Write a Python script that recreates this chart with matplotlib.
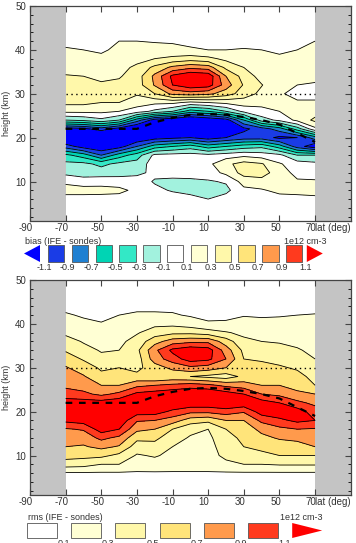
import numpy as np
import matplotlib
matplotlib.use("Agg")
import matplotlib.pyplot as plt
from matplotlib.patches import Rectangle, Polygon
from matplotlib.ticker import MultipleLocator
from matplotlib.transforms import ScaledTranslation

plt.rcParams['font.family'] = ['Liberation Sans', 'DejaVu Sans']
plt.rcParams['axes.unicode_minus'] = False

lats = [-70, -60, -50, -40, -30, -20, -10, 0, 10, 20, 30, 40, 50, 60, 70]
heights = [4, 6, 8, 10, 12, 14, 16, 18, 20, 22, 24, 26, 28, 30, 32, 34, 36, 38, 40, 42, 44, 46]

# bias (IFE - sondes), one row per latitude, values at the heights above
bias = [
    [0.0, 0.0, 0.2, 0.05, -0.15, -0.25, -0.45, -1.0, -1.4, -1.2, -0.3, 0.15, 0.35, 0.38, 0.38, 0.32, 0.2, 0.15, 0.12, 0.05, 0.0, 0.0],
    [0.0, 0.02, 0.18, 0.0, -0.2, -0.25, -0.6, -1.2, -1.45, -1.15, -0.25, 0.15, 0.35, 0.38, 0.38, 0.3, 0.2, 0.15, 0.1, 0.05, 0.0, 0.0],
    [0.0, 0.02, 0.17, 0.02, -0.2, -0.35, -0.9, -1.3, -1.5, -1.0, -0.15, 0.15, 0.3, 0.35, 0.33, 0.25, 0.2, 0.13, 0.08, 0.03, 0.0, 0.0],
    [0.0, 0.02, 0.15, 0.0, -0.18, -0.25, -0.6, -1.2, -1.5, -1.2, -0.3, 0.1, 0.3, 0.35, 0.35, 0.28, 0.22, 0.17, 0.13, 0.1, 0.03, 0.0],
    [0.0, 0.0, 0.05, 0.0, -0.15, -0.22, -0.4, -0.9, -1.3, -1.4, -0.8, 0.0, 0.2, 0.32, 0.4, 0.4, 0.35, 0.22, 0.14, 0.1, 0.03, 0.0],
    [0.0, 0.0, -0.05, -0.12, -0.05, 0.0, -0.05, -0.6, -1.2, -1.5, -1.2, -0.15, 0.15, 0.5, 0.72, 0.75, 0.55, 0.3, 0.15, 0.09, 0.03, 0.0],
    [0.0, 0.0, -0.12, -0.15, -0.02, 0.0, -0.03, -0.5, -1.15, -1.5, -1.3, -0.3, 0.15, 0.75, 1.1, 1.15, 0.75, 0.35, 0.15, 0.08, 0.03, 0.0],
    [0.0, -0.05, -0.15, -0.15, 0.0, 0.0, -0.02, -0.4, -1.1, -1.5, -1.4, -0.6, 0.05, 0.8, 1.25, 1.3, 0.85, 0.4, 0.12, 0.06, 0.02, 0.0],
    [0.0, -0.1, -0.15, -0.12, 0.0, 0.05, -0.05, -0.6, -1.2, -1.5, -1.3, -0.5, 0.1, 0.75, 1.2, 1.25, 0.8, 0.35, 0.1, 0.04, 0.01, 0.0],
    [0.0, -0.02, -0.15, -0.08, 0.15, 0.25, 0.0, -0.5, -1.1, -1.45, -1.2, -0.3, 0.15, 0.6, 0.8, 0.7, 0.45, 0.25, 0.1, 0.04, 0.01, 0.0],
    [0.0, 0.0, 0.05, 0.18, 0.38, 0.38, 0.05, -0.4, -1.0, -1.15, -0.7, -0.05, 0.2, 0.4, 0.48, 0.42, 0.3, 0.2, 0.11, 0.05, 0.01, 0.0],
    [0.0, 0.02, 0.08, 0.22, 0.4, 0.32, 0.0, -0.35, -1.0, -1.0, -0.2, 0.05, 0.15, 0.25, 0.31, 0.22, 0.15, 0.12, 0.1, 0.04, 0.0, 0.0],
    [0.0, 0.03, 0.15, 0.18, 0.18, 0.12, -0.05, -0.6, -1.15, -0.8, -0.05, 0.1, 0.15, 0.12, 0.15, 0.15, 0.13, 0.11, 0.09, 0.04, 0.0, 0.0],
    [0.0, 0.05, 0.15, 0.12, 0.05, 0.0, -0.3, -1.0, -1.1, -0.4, 0.15, 0.2, 0.12, 0.05, 0.1, 0.15, 0.14, 0.12, 0.1, 0.05, 0.0, 0.0],
    [0.0, 0.05, 0.18, 0.12, 0.02, -0.05, -0.3, -1.25, -0.8, 0.05, 0.35, 0.2, 0.12, 0.05, 0.08, 0.15, 0.15, 0.14, 0.13, 0.1, 0.04, 0.0],
]

# rms (IFE - sondes)
rms = [
    [0.0, 0.08, 0.4, 0.58, 0.7, 0.8, 0.88, 1.15, 1.25, 1.2, 1.0, 0.85, 0.78, 0.72, 0.6, 0.48, 0.4, 0.25, 0.2, 0.12, 0.05, 0.0],
    [0.0, 0.08, 0.38, 0.56, 0.68, 0.78, 0.92, 1.2, 1.3, 1.2, 0.95, 0.8, 0.72, 0.6, 0.48, 0.38, 0.28, 0.2, 0.14, 0.08, 0.03, 0.0],
    [0.0, 0.08, 0.3, 0.55, 0.75, 0.95, 1.2, 1.3, 1.3, 1.2, 0.85, 0.7, 0.55, 0.47, 0.36, 0.28, 0.22, 0.16, 0.11, 0.06, 0.02, 0.0],
    [0.0, 0.08, 0.3, 0.45, 0.68, 0.85, 1.1, 1.25, 1.3, 1.25, 0.95, 0.7, 0.6, 0.5, 0.4, 0.3, 0.25, 0.18, 0.14, 0.1, 0.04, 0.0],
    [0.0, 0.08, 0.2, 0.28, 0.4, 0.55, 0.75, 0.92, 1.2, 1.3, 1.15, 0.85, 0.55, 0.45, 0.4, 0.45, 0.38, 0.28, 0.2, 0.13, 0.05, 0.0],
    [0.0, 0.08, 0.22, 0.32, 0.42, 0.55, 0.7, 0.9, 1.2, 1.3, 1.2, 0.9, 0.5, 0.6, 0.8, 0.85, 0.62, 0.4, 0.25, 0.13, 0.05, 0.0],
    [0.0, 0.08, 0.2, 0.25, 0.3, 0.38, 0.5, 0.8, 1.05, 1.3, 1.25, 0.95, 0.55, 0.75, 1.0, 1.15, 0.8, 0.45, 0.25, 0.12, 0.05, 0.0],
    [0.0, 0.08, 0.2, 0.22, 0.25, 0.28, 0.35, 0.6, 0.95, 1.25, 1.3, 1.0, 0.5, 0.85, 1.2, 1.25, 0.85, 0.45, 0.2, 0.08, 0.03, 0.0],
    [0.0, 0.08, 0.2, 0.22, 0.24, 0.26, 0.3, 0.55, 0.95, 1.25, 1.3, 0.95, 0.45, 0.8, 1.15, 1.2, 0.85, 0.4, 0.12, 0.06, 0.02, 0.0],
    [0.0, 0.08, 0.25, 0.35, 0.38, 0.42, 0.5, 0.7, 1.0, 1.3, 1.2, 0.85, 0.4, 0.7, 0.9, 0.8, 0.6, 0.32, 0.12, 0.07, 0.02, 0.0],
    [0.0, 0.08, 0.3, 0.42, 0.5, 0.55, 0.6, 0.7, 0.92, 1.25, 1.1, 0.8, 0.55, 0.55, 0.5, 0.45, 0.35, 0.25, 0.16, 0.09, 0.03, 0.0],
    [0.0, 0.08, 0.3, 0.45, 0.55, 0.65, 0.75, 0.95, 1.2, 1.2, 0.9, 0.7, 0.62, 0.55, 0.48, 0.4, 0.3, 0.22, 0.15, 0.08, 0.03, 0.0],
    [0.0, 0.08, 0.32, 0.5, 0.6, 0.72, 0.85, 1.05, 1.25, 1.1, 0.85, 0.7, 0.6, 0.52, 0.45, 0.38, 0.28, 0.2, 0.14, 0.09, 0.03, 0.0],
    [0.0, 0.08, 0.32, 0.5, 0.62, 0.75, 0.9, 1.15, 1.2, 0.95, 0.75, 0.62, 0.55, 0.48, 0.4, 0.32, 0.25, 0.18, 0.13, 0.1, 0.03, 0.0],
    [0.0, 0.08, 0.32, 0.5, 0.7, 0.8, 0.88, 1.1, 1.0, 0.85, 0.7, 0.5, 0.45, 0.4, 0.3, 0.25, 0.2, 0.17, 0.13, 0.11, 0.04, 0.0],
]

tropopause = [22, 22, 22, 22, 22, 23.5, 24.5, 25.2, 25.4, 25.2, 24.7, 24, 23, 21, 19]

bias_levels = [-1.1, -0.9, -0.7, -0.5, -0.3, -0.1, 0.1, 0.3, 0.5, 0.7, 0.9, 1.1]
bias_labels = ['-1.1', '-0.9', '-0.7', '-0.5', '-0.3', '-0.1', '0.1', '0.3', '0.5', '0.7', '0.9', '1.1']
bias_colors = ['#0000ff', '#1a3ce6', '#1f80d2', '#00d4b4', '#33e8c6', '#a2f2de', '#ffffff',
               '#ffffd4', '#fff8aa', '#ffe47a', '#ff9a4c', '#ff3a1e', '#ff0000']

rms_levels = [0.1, 0.3, 0.5, 0.7, 0.9, 1.1]
rms_labels = ['0.1', '0.3', '0.5', '0.7', '0.9', '1.1']
rms_colors = ['#ffffff', '#ffffd4', '#fff8aa', '#ffe47a', '#ff9a4c', '#ff3a1e', '#ff0000']

GREY = '#c4c4c4'
TXT = '#333333'

fig = plt.figure(figsize=(3.56, 5.43), dpi=100)


def panel(ax, field, levels, colors):
    z = np.array(field).T
    ax.contourf(lats, heights, z, levels=[-9] + levels + [9], colors=colors)
    ax.contour(lats, heights, z, levels=levels, colors='black', linewidths=0.6,
               linestyles='solid')
    ax.axvspan(-90, -70, color=GREY, lw=0)
    ax.axvspan(70, 90, color=GREY, lw=0)
    ax.plot([-70, 70], [30, 30], color='black', ls=(0, (1, 2.5)), lw=1)
    ax.plot(lats, tropopause, color='black', ls=(0, (3, 3)), lw=1.6)
    ax.set_xlim(-90, 90)
    ax.set_ylim(1, 50)
    ax.set_xticks([-90, -70, -50, -30, -10, 10, 30, 50, 70])
    ax.set_yticks([10, 20, 30, 40, 50])
    ax.yaxis.set_minor_locator(MultipleLocator(2))
    ax.tick_params(direction='in', top=True, right=True, length=4, width=0.8,
                   labelsize=7, labelcolor=TXT, color='#444444')
    ax.tick_params(axis='x', pad=1.5)
    ax.tick_params(axis='y', pad=3)
    ax.tick_params(which='minor', direction='in', right=True, left=True, length=2, width=0.6)
    shift = ScaledTranslation(-4 / 100, 0, fig.dpi_scale_trans)
    for lab in ax.get_xticklabels():
        lab.set_transform(lab.get_transform() + shift)
    for s in ax.spines.values():
        s.set_color('#444444')
        s.set_linewidth(0.9)
    ax.set_ylabel('height (km)', fontsize=6.5, color=TXT, labelpad=3)
    ax.text(1.0, -0.008, 'lat (deg)', transform=ax.transAxes, ha='right', va='top',
            fontsize=7, color=TXT)


ax1 = fig.add_axes([30 / 356, 1 - 221 / 543, 320.7 / 356, 215 / 543])
panel(ax1, bias, bias_levels, bias_colors)
ax2 = fig.add_axes([30 / 356, 1 - 495 / 543, 320.7 / 356, 215 / 543])
panel(ax2, rms, rms_levels, rms_colors)

# colour keys drawn in pixel coordinates
key = fig.add_axes([0, 0, 1, 1])
key.set_xlim(0, 356)
key.set_ylim(543, 0)
key.axis('off')

# bias key: triangle, 11 boxes, triangle
step, w, y0, y1 = 23.8, 16.3, 245, 262
key.add_patch(Polygon([[24, (y0 + y1) / 2], [40, y0], [40, y1]], closed=True,
                      facecolor=bias_colors[0], edgecolor='none'))
for i, c in enumerate(bias_colors[1:-1]):
    x0 = 48 + i * step
    key.add_patch(Rectangle((x0, y0), w, y1 - y0, facecolor=c, edgecolor='#555555', lw=0.6))
xr = 48 + (len(bias_colors) - 2) * step - 3
key.add_patch(Polygon([[xr, y0], [xr, y1], [xr + 16, (y0 + y1) / 2]], closed=True,
                      facecolor=bias_colors[-1], edgecolor='none'))
for i, lab in enumerate(bias_labels):
    key.text(44 + i * step, 263.5, lab, ha='center', va='top', fontsize=6.5, color=TXT)
key.text(25, 242, 'bias (IFE - sondes)', ha='left', va='center', fontsize=6.5, color=TXT)
key.text(326, 242, '1e12 cm-3', ha='right', va='center', fontsize=6.5, color=TXT)

# rms key: 6 boxes, triangle
step, w, y0, y1 = 44.2, 30, 523, 538
for i, c in enumerate(rms_colors[:-1]):
    x0 = 27 + i * step
    key.add_patch(Rectangle((x0, y0), w, y1 - y0, facecolor=c, edgecolor='#555555', lw=0.6))
xr = 27 + (len(rms_colors) - 1) * step
key.add_patch(Polygon([[xr, y0], [xr, y1], [xr + 30, (y0 + y1) / 2]], closed=True,
                      facecolor=rms_colors[-1], edgecolor='none'))
for i, lab in enumerate(rms_labels):
    key.text(64 + i * step, 539.5, lab, ha='center', va='top', fontsize=6.5, color=TXT)
key.text(28, 517, 'rms (IFE - sondes)', ha='left', va='center', fontsize=6.5, color=TXT)
key.text(322, 517, '1e12 cm-3', ha='right', va='center', fontsize=6.5, color=TXT)

fig.savefig('out.png', dpi=100)
